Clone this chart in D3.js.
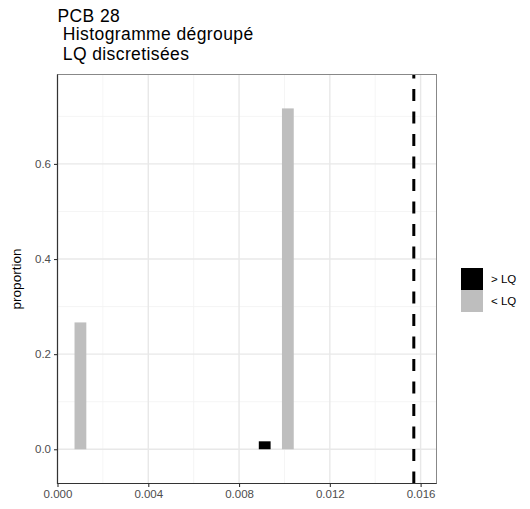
<!DOCTYPE html>
<html><head><meta charset="utf-8">
<script src="https://cdn.jsdelivr.net/npm/d3@7"></script>
<style>body{margin:0;background:#fff}svg{display:block}text{font-family:"Liberation Sans",Arial,sans-serif}</style>
</head><body><svg id="c" width="530" height="509"></svg>
<script>
const titleLines = ["PCB 28", " Histogramme dégroupé", " LQ discretisées"];
const groups = ["> LQ", "< LQ"];
const groupColors = ["#000000", "#bebebe"];
const barCenters = [0.00101, 0.00913, 0.01015];
const barProportions = [0.2667, 0.0167, 0.7167];
const barGroups = ["< LQ", "> LQ", "< LQ"];
const binWidth = 0.00052;
const lqValue = 0.0157;
const xTicks = [0, 0.004, 0.008, 0.012, 0.016];
const xMinor = [0.002, 0.006, 0.010, 0.014];
const yTicks = [0, 0.2, 0.4, 0.6];
const yMinor = [0.1, 0.3, 0.5, 0.7];

const svg = d3.select("#c");
const L = 57.5, R = 436.5, T = 74.5, B = 483.5;
const x = d3.scaleLinear().domain([0, 0.0167]).range([L, R]);
const y = d3.scaleLinear().domain([-0.072, 0.788]).range([B, T]);
const color = d3.scaleOrdinal().domain(groups).range(groupColors);

// grid
const g = svg.append("g");
g.selectAll(".xm").data(xMinor).join("line").attr("x1", d => x(d)).attr("x2", d => x(d)).attr("y1", T).attr("y2", B).attr("stroke", "#f2f2f2").attr("stroke-width", 0.8);
g.selectAll(".ym").data(yMinor).join("line").attr("y1", d => y(d)).attr("y2", d => y(d)).attr("x1", L).attr("x2", R).attr("stroke", "#f2f2f2").attr("stroke-width", 0.8);
g.selectAll(".xM").data(xTicks).join("line").attr("x1", d => x(d)).attr("x2", d => x(d)).attr("y1", T).attr("y2", B).attr("stroke", "#e8e8e8").attr("stroke-width", 1.4);
g.selectAll(".yM").data(yTicks).join("line").attr("y1", d => y(d)).attr("y2", d => y(d)).attr("x1", L).attr("x2", R).attr("stroke", "#e8e8e8").attr("stroke-width", 1.4);

// bars
svg.append("g").selectAll("rect").data(barCenters).join("rect")
  .attr("x", (d) => x(d - binWidth / 2))
  .attr("width", (d) => x(d + binWidth / 2) - x(d - binWidth / 2))
  .attr("y", (d, i) => y(barProportions[i]))
  .attr("height", (d, i) => y(0) - y(barProportions[i]))
  .attr("fill", (d, i) => color(barGroups[i]));

// dashed LQ line, drawn from bottom upward
svg.append("defs").append("clipPath").attr("id", "cp").append("rect").attr("x", L).attr("y", T).attr("width", R - L).attr("height", B - T);
svg.append("line").attr("clip-path", "url(#cp)")
  .attr("x1", x(lqValue)).attr("x2", x(lqValue)).attr("y1", B).attr("y2", T - 30)
  .attr("stroke", "#000").attr("stroke-width", 3).attr("stroke-dasharray", "12,10.5");

// border
svg.append("rect").attr("x", L).attr("y", T).attr("width", R - L).attr("height", B - T).attr("fill", "none").attr("stroke", "#888").attr("stroke-width", 1);
svg.append("path").attr("d", `M${L},${T}V${B}H${R}`).attr("fill", "none").attr("stroke", "#333").attr("stroke-width", 1.2);

// axes
const xAxis = svg.append("g").attr("transform", `translate(0,${B})`)
  .call(d3.axisBottom(x).tickValues(xTicks).tickFormat(d3.format(".3f")).tickSize(3.5).tickPadding(3));
const yAxis = svg.append("g").attr("transform", `translate(${L},0)`)
  .call(d3.axisLeft(y).tickValues(yTicks).tickFormat(d3.format(".1f")).tickSize(3.5).tickPadding(3));
[xAxis, yAxis].forEach(a => {
  a.select(".domain").remove();
  a.selectAll(".tick line").attr("stroke", "#333").attr("stroke-width", 1.1);
  a.selectAll(".tick text").attr("fill", "#4d4d4d").style("font-size", "11.5px").style("font-family", '"Liberation Sans",Arial,sans-serif');
});

// y title
svg.append("text").attr("transform", `translate(21,${(T + B) / 2}) rotate(-90)`)
  .attr("text-anchor", "middle").attr("fill", "#000").style("font-size", "13.5px").text("proportion");

// title
const tb = [21.5, 40, 59.5];
svg.selectAll(".title").data(titleLines).join("text").attr("class", "title")
  .attr("x", L).attr("y", (d, i) => tb[i]).attr("fill", "#000")
  .style("font-size", "17.5px").style("letter-spacing", "0.4px").style("white-space", "pre").attr("xml:space", "preserve").text(d => d);

// legend
const lg = svg.append("g").attr("transform", "translate(461,268)");
groups.forEach((gname, i) => {
  lg.append("rect").attr("x", 0).attr("y", i * 22).attr("width", 22).attr("height", 22).attr("fill", color(gname));
  lg.append("text").attr("x", 30).attr("y", i * 22 + 11).attr("dy", "0.35em").attr("fill", "#000").style("font-size", "11.5px").text(gname);
});
</script></body></html>
